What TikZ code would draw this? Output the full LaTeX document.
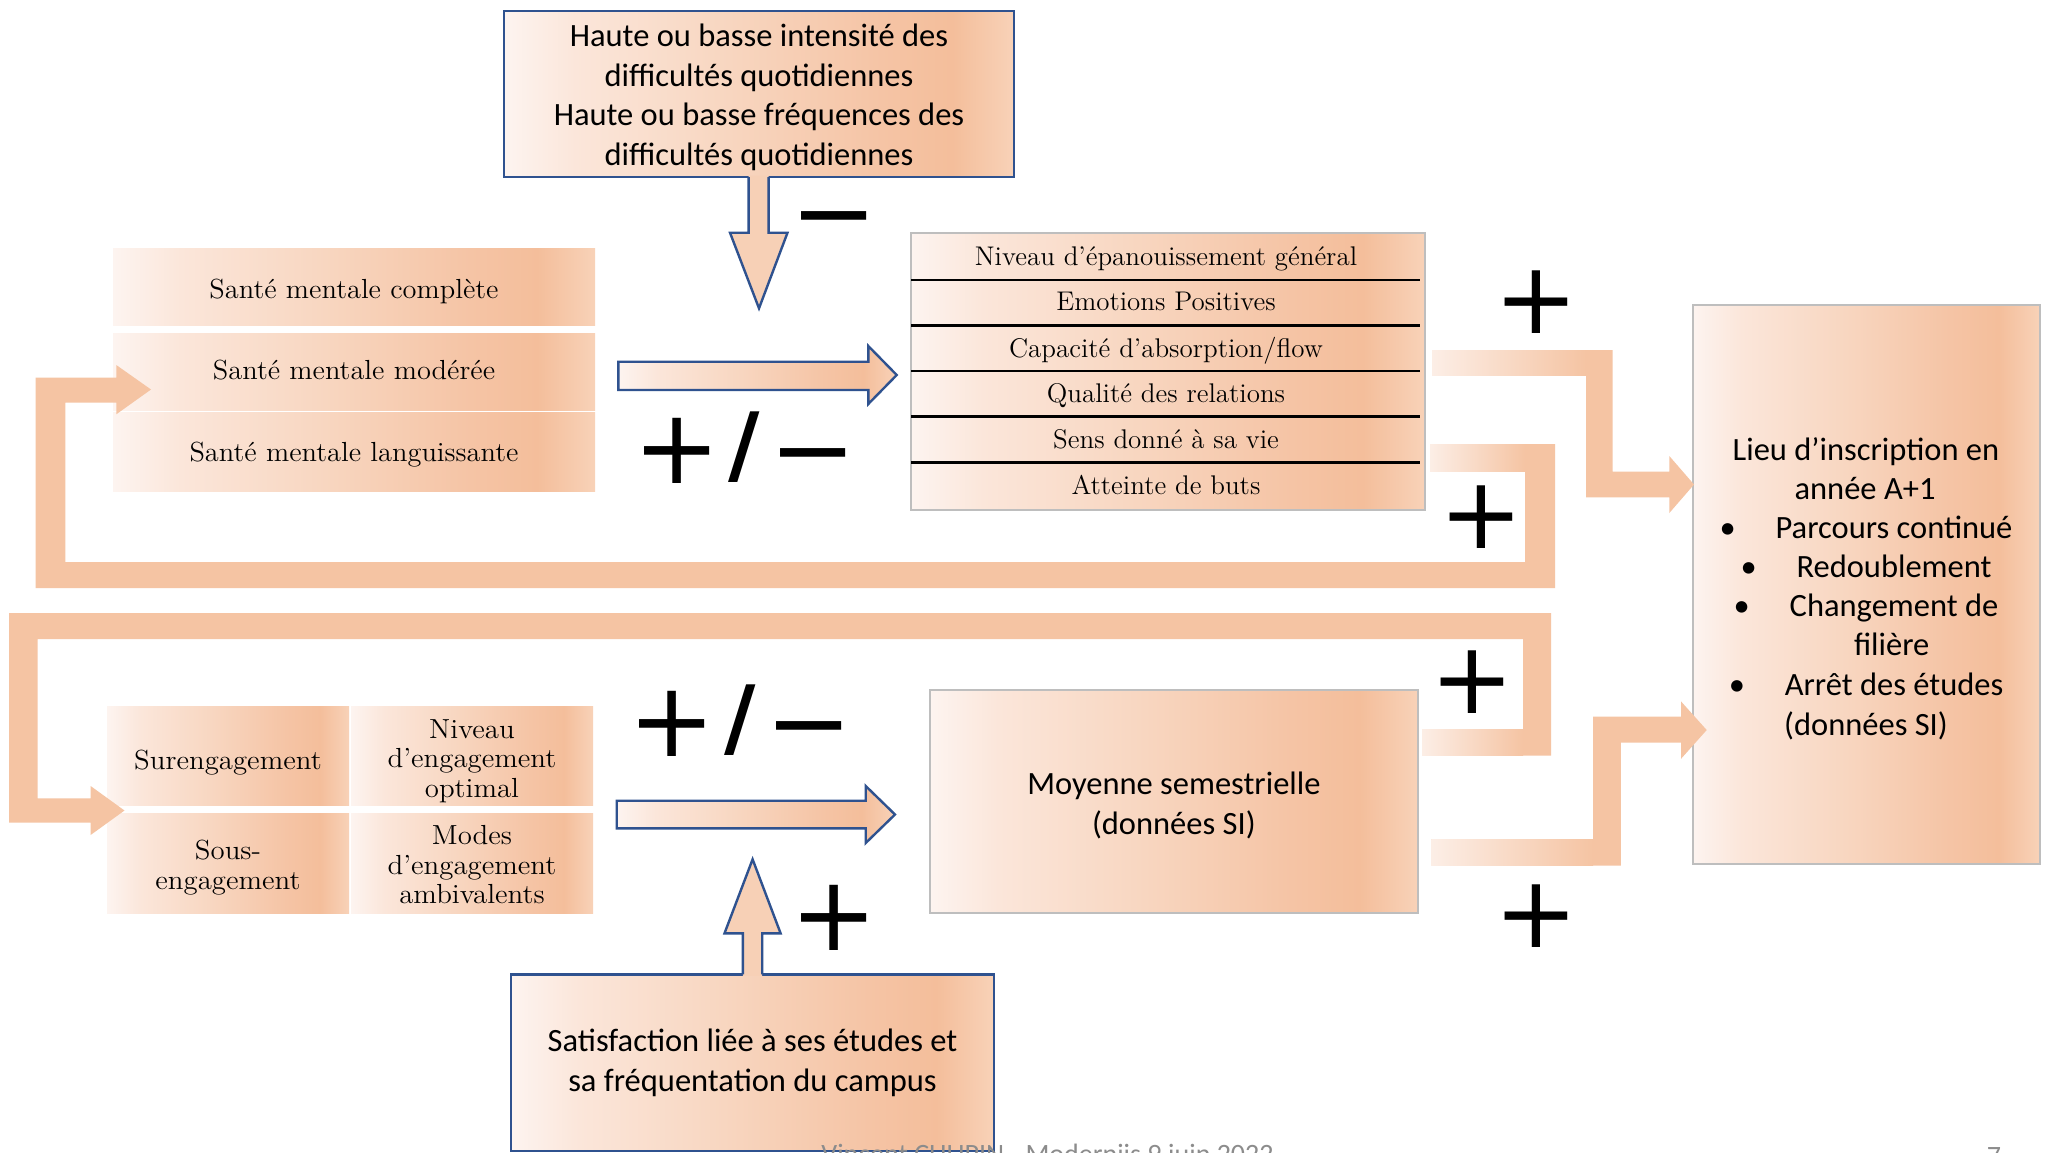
\documentclass[tikz,border=0pt]{standalone}
\usepackage{fontspec}
\setmainfont{Latin Modern Roman}
\newfontfamily\santefont{Latin Modern Roman}[FakeStretch=1.03]
\newfontfamily\engfont{Latin Modern Roman}[FakeStretch=1.045]
\newfontfamily\calfont{Carlito}
\newfontfamily\signfont{DejaVu Sans}
\definecolor{g0}{RGB}{253,244,240}
\definecolor{g1}{RGB}{251,230,218}
\definecolor{g2}{RGB}{248,214,192}
\definecolor{g3}{RGB}{245,196,165}
\definecolor{g4}{RGB}{244,190,155}
\definecolor{g5}{RGB}{248,210,184}
\definecolor{bluel}{RGB}{47,82,143}
\definecolor{grayb}{RGB}{190,190,190}
\definecolor{loopc}{RGB}{245,196,163}
\definecolor{stubl}{RGB}{252,238,230}
\definecolor{arrowc}{RGB}{247,208,182}
\definecolor{footc}{RGB}{140,140,140}
\pgfdeclarehorizontalshading{peachgrad}{100bp}{color(0bp)=(g0); color(25bp)=(g0); color(32bp)=(g1); color(47bp)=(g2); color(62bp)=(g3); color(69bp)=(g4); color(75bp)=(g5); color(100bp)=(g5)}
\tikzset{
  pbox/.style={shading=peachgrad, inner sep=0pt},
  blueline/.style={draw=bluel, line width=1.2pt},
  grayline/.style={draw=grayb, line width=1pt},
  calf/.style={font=\calfont\fontsize{16.25}{19.7}\selectfont, align=center, inner sep=0pt},
  calb/.style={calf, anchor=base},
  santef/.style={font=\santefont\fontsize{13.8}{15}\selectfont, anchor=base, inner sep=0pt},
  tabf/.style={font=\fontsize{13.5}{14}\selectfont, anchor=base, inner sep=0pt},
  engf/.style={font=\engfont\fontsize{13.8}{14.7}\selectfont, align=center, inner sep=0pt},
  sign/.style={font=\signfont\fontsize{52}{52}\selectfont, anchor=base, inner sep=0pt},
  signr/.style={font=\signfont\fontsize{50}{50}\selectfont, anchor=base, inner sep=0pt},
  slashf/.style={font=\signfont\bfseries\fontsize{43}{43}\selectfont, anchor=base, inner sep=0pt},
  loopfill/.style={fill=loopc},
  stub/.style={left color=stubl, right color=loopc},
  varrow/.style={fill=arrowc},
  rowline/.style={line width=1.3pt, draw=black},
}
\begin{document}
\begin{tikzpicture}[x=0.5pt, y=-0.5pt]
\useasboundingbox (0,0) rectangle (2049,1152);
\clip (0,0) rectangle (2049,1152);
\fill[white] (0,0) rectangle (2049,1152);

% ---- top box and down arrow
\node[pbox, blueline, minimum width=255pt, minimum height=83pt] (haut) at (759,94) {};
\node[calf] (hautt) at (759,98.2)
  {\strut Haute ou basse intensité des\\difficultés quotidiennes\\Haute ou basse fréquences des\\difficultés quotidiennes\strut};
\fill[varrow] (748.6,175.5) -- (768.6,175.5) -- (768.6,232.7) -- (787.5,232.7) -- (759,308.3) -- (730,232.7) -- (748.6,232.7) -- cycle;
\draw[blueline, line join=miter] (748.6,177) -- (748.6,232.7) -- (730,232.7) -- (759,308.3) -- (787.5,232.7) -- (768.6,232.7) -- (768.6,177);
\node[sign] (minus1) at (834,248) {−};

% ---- santé mentale boxes
\node[pbox, minimum width=241pt, minimum height=38.7pt] (s1) at (354,287) {};
\node[pbox, minimum width=241pt, minimum height=38.35pt] (s2) at (354,371.7) {};
\node[pbox, minimum width=241pt, minimum height=39.5pt] (s3) at (354,452.2) {};
\node[santef] (s1t) at (354,298.3) {Santé mentale complète};
\node[santef] (s2t) at (354,379.8) {Santé mentale modérée};
\node[santef] (s3t) at (354,461.5) {Santé mentale languissante};

% ---- table
\node[pbox, grayline, minimum width=256.75pt, minimum height=138.65pt] (tab) at (1167.75,371.35) {};
\foreach \yy in {280,325.3,371,416.7,462.7} {\draw[rowline] (911,\yy) -- (1420,\yy);}
\node[tabf] (r1) at (1166,265) {Niveau d’épanouissement général};
\node[tabf] (r2) at (1166,310.5) {Emotions Positives};
\node[tabf] (r3) at (1166,357) {Capacité d’absorption/flow};
\node[tabf] (r4) at (1166,402.5) {Qualité des relations};
\node[tabf] (r5) at (1166,448.5) {Sens donné à sa vie};
\node[tabf] (r6) at (1166,494.5) {Atteinte de buts};

% ---- upper horizontal arrow and signs
\path[blueline, shading=peachgrad] (618.3,361.7) -- (868.3,361.7) -- (868.3,346) -- (896.7,375) -- (868.3,404) -- (868.3,390) -- (618.3,390) -- cycle;
\node[sign] (p1) at (677,483) {+};
\node[slashf] (sl1) at (744,474) {/};
\node[sign] (m1) at (813,485) {−};

% ---- engagement boxes
\node[pbox, minimum width=121pt, minimum height=49.85pt] (e1) at (228,755.85) {};
\node[pbox, minimum width=121pt, minimum height=49.85pt] (e2) at (472,755.85) {};
\node[pbox, minimum width=121pt, minimum height=50pt] (e3) at (228,863.3) {};
\node[pbox, minimum width=121pt, minimum height=50pt] (e4) at (472,863.3) {};
\node[engf] (e1t) at (228,763.3) {\strut Surengagement\strut};
\node[engf] (e2t) at (472,761.8) {\strut Niveau\\d’engagement\\optimal\strut};
\node[engf] (e3t) at (228,868.5) {\strut Sous-\\engagement\strut};
\node[engf] (e4t) at (472,868.5) {\strut Modes\\d’engagement\\ambivalents\strut};

% ---- lower horizontal arrow and signs
\path[blueline, shading=peachgrad] (616.7,800.7) -- (865.7,800.7) -- (865.7,786) -- (895,814.5) -- (865.7,843) -- (865.7,828.3) -- (616.7,828.3) -- cycle;
\node[sign] (p2) at (672,756) {+};
\node[slashf] (sl2) at (739.7,747) {/};
\node[sign] (m2) at (808.7,758) {−};

% ---- moyenne
\node[pbox, grayline, minimum width=243.85pt, minimum height=111.35pt] (moy) at (1173.85,801.35) {};
\node[calf] (moyt) at (1173.85,806.5) {\strut Moyenne semestrielle\\(données SI)\strut};

% ---- satisfaction box and up arrow
\node[pbox, blueline, minimum width=241.5pt, minimum height=88.35pt] (sat) at (752.5,1062.65) {};
\node[calf] (satt) at (752.5,1063.5) {\strut Satisfaction liée à ses études et\\sa fréquentation du campus\strut};
\fill[varrow] (742.9,975.8) -- (742.9,933.3) -- (724.5,933.3) -- (752.6,859.3) -- (780.6,933.3) -- (762.2,933.3) -- (762.2,975.8) -- cycle;
\draw[blueline, line join=miter] (742.9,974.3) -- (742.9,933.3) -- (724.5,933.3) -- (752.6,859.3) -- (780.6,933.3) -- (762.2,933.3) -- (762.2,974.3);
\node[sign] (p3) at (834,950) {+};

% ---- lieu box
\node[pbox, grayline, minimum width=173.65pt, minimum height=279.35pt] (lieu) at (1866.35,584.65) {};
\node[calb] (l1) at (1866,460) {Lieu d’inscription en};
\node[calb] (l2) at (1865,499.3) {année A+1};
\node[calb] (l3) at (1866,538) {\makebox[28pt][l]{•}Parcours continué};
\node[calb] (l4) at (1866,577.5) {\makebox[28pt][l]{•}Redoublement};
\node[calb] (l5) at (1866,616.8) {\makebox[28pt][l]{•}Changement de};
\node[calb] (l6) at (1891.7,655.5) {filière};
\node[calb] (l7) at (1866,695.2) {\makebox[28pt][l]{•}Arrêt des études};
\node[calb] (l8) at (1866,735) {(données SI)};

% ---- feedback loops (block connectors)
% upper loop: table -> santé mentale modérée
\fill[loopfill] (1430,444) -- (1555,444) -- (1555,588) -- (35.5,588) -- (35.5,377.7) -- (116.3,377.7) -- (116.3,365) -- (151,389.5) -- (116.3,414.3) -- (116.3,402.7) -- (65.3,402.7) -- (65.3,562) -- (1525,562) -- (1525,471) -- (1430,471) -- cycle;
\fill[stub] (1430,444) rectangle (1525,471);
% lower loop: moyenne -> engagement
\fill[loopfill] (1422,729) -- (1523,729) -- (1523,639) -- (37.5,639) -- (37.5,798.3) -- (90.6,798.3) -- (90.6,786) -- (124.5,810.5) -- (90.6,835) -- (90.6,822.7) -- (9,822.7) -- (9,613) -- (1551,613) -- (1551,755.7) -- (1422,755.7) -- cycle;
\fill[stub] (1422,729) rectangle (1523,755.7);
% table -> lieu
\fill[loopfill] (1432,350) -- (1612.7,350) -- (1612.7,471.7) -- (1669.3,471.7) -- (1669.3,456) -- (1694,484.5) -- (1669.3,513) -- (1669.3,497.3) -- (1586,497.3) -- (1586,375) -- (1432,375) -- cycle;
\fill[stub] (1432,350) rectangle (1586,375);
% moyenne -> lieu
\fill[loopfill] (1431.7,839) -- (1593,839) -- (1593,716.7) -- (1681,716.7) -- (1681,701.4) -- (1706.7,730) -- (1681,758.8) -- (1681,742.7) -- (1620.8,742.7) -- (1620.8,865.7) -- (1431.7,865.7) -- cycle;
\fill[stub] (1431.7,839) rectangle (1593,865.7);

% ---- right-side signs
\node[signr] (p4) at (1536.6,333.5) {+};
\node[signr] (p5) at (1481.7,548.7) {+};
\node[signr] (p6) at (1472,713) {+};
\node[signr] (p7) at (1536.7,947) {+};

% ---- footer (cut off by the page edge)
\node[font=\calfont\fontsize{14}{14}\selectfont, text=footc, anchor=base west, inner sep=0pt] (foot) at (821,1163) {Vincent CHUPIN - Moderniis 9 juin 2022};
\node[font=\calfont\fontsize{14}{14}\selectfont, text=footc, anchor=base, inner sep=0pt] (pnum) at (1994,1165) {7};
\end{tikzpicture}
\end{document}
